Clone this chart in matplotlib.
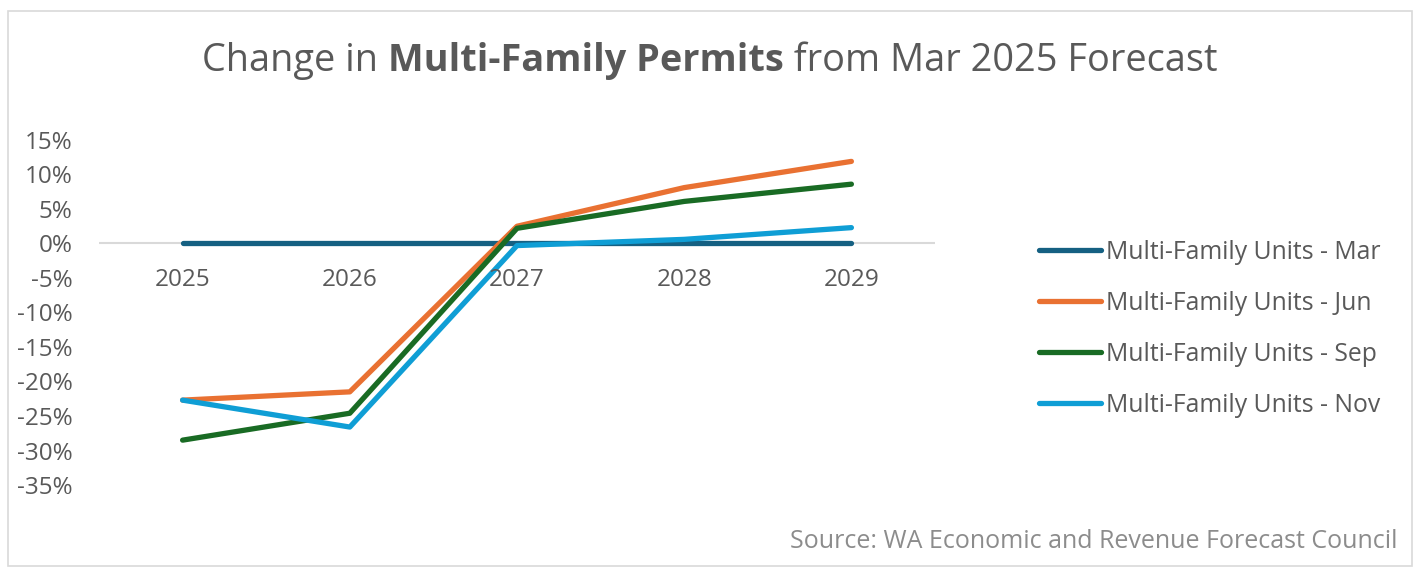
import matplotlib
matplotlib.use("Agg")
import matplotlib.pyplot as plt
from matplotlib.patches import Rectangle

years = ["2025", "2026", "2027", "2028", "2029"]
mar = [0.0, 0.0, 0.0, 0.0, 0.0]
jun = [-22.7, -21.5, 2.5, 8.1, 11.9]
sep = [-28.5, -24.6, 2.2, 6.1, 8.6]
nov = [-22.7, -26.6, -0.3, 0.6, 2.3]
series_names = [
    "Multi-Family Units - Mar",
    "Multi-Family Units - Jun",
    "Multi-Family Units - Sep",
    "Multi-Family Units - Nov",
]
colors = ["#156082", "#E97132", "#196B24", "#0F9ED5"]
y_ticks = [15, 10, 5, 0, -5, -10, -15, -20, -25, -30, -35]

plt.rcParams["font.family"] = ["Open Sans", "DejaVu Sans"]
text_color = "#595959"

W, H = 1427, 578
fig = plt.figure(figsize=(W / 100, H / 100), dpi=100)
fig.patch.set_facecolor("white")

# chart border
fig.patches.append(Rectangle((8 / W, 1 - 566 / H), 1404 / W, 555 / H,
                             transform=fig.transFigure, fill=False,
                             edgecolor="#d9d9d9", linewidth=1.2))

ax = fig.add_axes([99 / W, 1 - 485 / H, (935 - 99) / W, (485 - 140) / H])
x = list(range(len(years)))
ax.axhline(0, color="#d9d9d9", linewidth=1.5, zorder=1)

for vals, name, c in zip([mar, jun, sep, nov], series_names, colors):
    ax.plot(x, vals, color=c, linewidth=3.8, label=name,
            solid_capstyle="round", solid_joinstyle="round", zorder=2)

ax.set_xlim(-0.5, len(years) - 0.5)
ax.set_ylim(-35, 15)
ax.set_yticks(y_ticks)
ax.set_yticklabels([f"{t}%" for t in y_ticks])
ax.tick_params(axis="y", length=0, pad=19, labelsize=17.5, labelcolor=text_color)
ax.set_xticks([])
for s in ax.spines.values():
    s.set_visible(False)

for xi, yr in zip(x, years):
    ax.annotate(yr, (xi, 0), xytext=(0, -18), textcoords="offset points",
                ha="center", va="top", fontsize=17.5, color=text_color)

ax.legend(loc="center left", bbox_to_anchor=(1017 / W, 1 - 329 / H),
          bbox_transform=fig.transFigure, frameon=False, fontsize=17.8,
          labelcolor=text_color, handlelength=2.5, handletextpad=0.2,
          labelspacing=1.05)

# title with bold middle part
parts = [("Change in ", "normal"), ("Multi-Family Permits", "bold"),
         (" from Mar 2025 Forecast", "normal")]
fig.canvas.draw()
r = fig.canvas.get_renderer()
tmp = []
for s, w in parts:
    t = fig.text(0, 0, s, fontsize=27.3, fontweight=w, color=text_color)
    tmp.append((t, t.get_window_extent(r).width))
total = sum(wd for _, wd in tmp)
xpos = (710 - total / 2) / W
for t, wd in tmp:
    t.set_position((xpos, 1 - 61 / H))
    t.set_va("center")
    xpos += wd / W

fig.text(1398 / W, 1 - 541 / H, "Source: WA Economic and Revenue Forecast Council",
         ha="right", va="center", fontsize=18, color="#8c8c8c")

fig.savefig("out.png", dpi=100, facecolor="white")
